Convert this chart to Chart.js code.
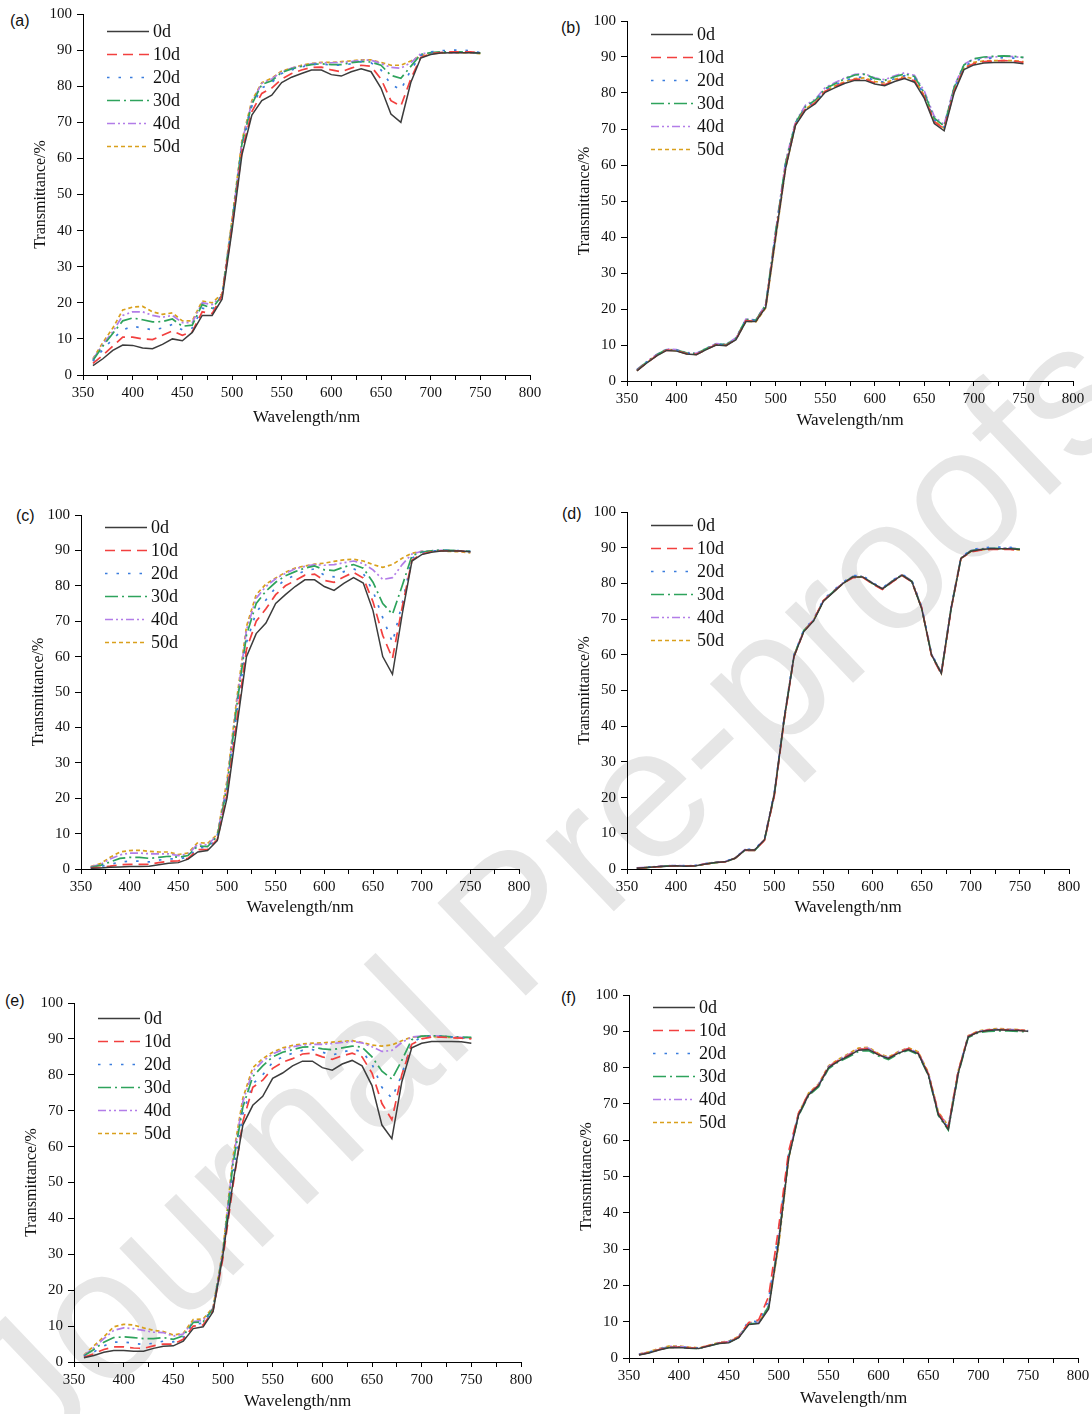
<!DOCTYPE html>
<html>
<head>
<meta charset="utf-8">
<script src="https://cdn.jsdelivr.net/npm/chart.js@4.4.1/dist/chart.umd.min.js"></script>
<style>
  body { margin: 0; background: #fff; }
  #page { position: relative; width: 1092px; height: 1414px; overflow: hidden; background: #fff; }
  #page canvas { position: absolute; }
  .tag { position: absolute; font: 16px "Liberation Sans", Arial, sans-serif; color: #111; }
  #wm {
    position: absolute; left: 545px; top: 888px; white-space: nowrap;
    font: 186px "Liberation Sans", Arial, sans-serif; color: #e6e6e6;
    transform: translate(-50%, -50%) rotate(-43.7deg);
  }
</style>
</head>
<body>
<div id="page">
  <div id="wm">Journal Pre-proofs</div>
</div>
<script>
// wavelength axis, nm
var wavelength = [360,370,380,390,400,410,420,430,440,450,460,470,480,490,500,510,520,530,540,550,
                  560,570,580,590,600,610,620,630,640,650,660,670,680,690,700,710,720,730,740,750];
var seriesNames = ['0d', '10d', '20d', '30d', '40d', '50d'];

// (a)
var a0  = [2.6,4.5,6.8,8.3,8.2,7.5,7.3,8.5,10,9.5, 11.8,16.5,16.5,21,40,61,72,76,77.5,81, 82.5,83.5,84.5,84.5,83.2,82.8,84,84.8,84,79.5, 72.3,70,81,87.8,88.8,89.2,89.3,89.3,89.3,89.2];
var a10 = [3.2,5.5,8,10.5,10.5,10,9.8,11,12.2,11, 12,17.5,17,22,41,62,73,78,79.5,82, 83.5,84.5,85.2,85.3,84.5,84,85,85.8,85.5,82, 76,74.5,82,88,89,89.3,89.5,89.5,89.5,89.3];
var a20 = [3.8,7,10,12.5,13.5,13,12.5,13,14,12.5, 13,18.5,18,22,42,63,74.5,79.5,81,83.5, 84.5,85.3,86,86.2,85.8,85.8,86.2,86.8,86.5,84.5, 80.5,79,84.5,88.5,89.5,89.8,90,90,89.8,89.3];
var a30 = [4,8,11.5,15,15.8,15.3,14.7,14.8,15.5,13.5, 13.8,19.5,18.5,22,42,64,75,80.5,81.5,83.8, 84.8,85.5,86,86.2,86,86,86.5,86.8,86.7,85.8, 83,82.2,85.5,88.8,89.3,89.5,89.5,89.5,89.3,89.2];
var a40 = [4.3,8.5,12,16.5,17.5,17.5,16.5,16,16.5,14.5, 14.5,20,19.5,22,42,64.5,75.5,80.8,82,84, 85,85.6,86.2,86.5,86.5,86.6,86.8,87.2,87.2,86.3, 85.2,85,86.5,89,89.2,89.3,89.3,89.3,89.3,89.2];
var a50 = [4.5,9,13,18,18.8,19,17.5,16.8,17.2,15, 15,20.5,20,22.5,43,65,76,81,82.2,84.2, 85,85.8,86.3,86.6,86.6,86.8,87,87.3,87.3,86.6, 85.8,85.8,87,88.5,89,89.2,89.2,89.2,89.2,89];

// (b)
var b0  = [2.8,5,7,8.5,8.3,7.5,7.3,8.7,10,9.8, 11.5,16.5,16.5,20.5,40,59,71,75.2,77,80.2, 81.5,82.7,83.5,83.5,82.5,82,83.2,84,83,78.5, 71.5,69.5,80,86.5,87.8,88.3,88.5,88.5,88.5,88.1];
var b10 = [2.9,5.1,7.1,8.6,8.4,7.6,7.4,8.8,10.1,9.9, 11.6,16.8,16.6,20.8,40.5,59.5,71.3,75.5,77.3,80.5, 81.8,83,83.8,83.9,82.8,82.3,83.5,84.2,83.4,79, 72,70,80.5,86.8,88.2,88.7,88.9,89,88.9,88.5];
var b20 = [3,5.2,7.2,8.7,8.5,7.7,7.5,8.9,10.2,10, 11.8,17,16.8,21,41,60,71.5,75.8,77.6,80.8, 82.2,83.5,84.3,84.5,83.5,83,84,84.8,84,79.5, 72.5,70.5,81,87.3,89,89.5,89.7,89.8,89.7,89.4];
var b30 = [3.1,5.3,7.3,8.8,8.6,7.8,7.6,9,10.3,10.1, 11.9,17.1,16.9,21.2,41.5,60.5,71.8,76.2,78,81.2, 82.6,84,85,85.2,84,83.5,84.5,85.3,84.6,80, 73,70.8,81.5,87.8,89.5,90,90.2,90.3,90.2,89.9];
var b40 = [3.2,5.4,7.4,8.9,8.7,7.9,7.7,9.1,10.4,10.2, 12,17.2,17,21.3,41.8,61,72,76.6,78.3,81.5, 82.9,84.2,85.2,85.3,84.2,83.7,84.8,85.6,84.9,80.5, 73.5,71.2,81.8,88,89.5,89.8,90,90.2,90.1,89.8];
var b50 = [2.9,5.1,7.1,8.6,8.4,7.6,7.4,8.8,10.1,9.9, 11.6,16.6,16.4,20.3,39.5,59,71.2,75.6,77.4,80.6, 82,83.2,84,84.2,83.2,82.8,83.8,84.6,83.8,79.3, 72.3,70.2,80.8,87,88.5,88.9,89,89,89,88.7];

// (c)
var c0  = [0.2,0.3,0.5,0.6,0.7,0.7,0.8,1.2,1.6,1.8, 2.8,4.8,5.2,8,20,40,60,66.5,69.5,75, 77.5,79.8,81.7,81.7,79.8,78.7,80.7,82.3,80.8,73, 60,55,72,87,88.8,89.5,89.8,89.8,89.8,89.6];
var c10 = [0.3,0.5,0.8,1.2,1.3,1.3,1.3,1.8,2.2,2.3, 3,5.5,5.5,8.3,21,42,62,70,73.5,77.5, 80,81.5,83,83.3,81.5,81,82.5,83.8,82.2,75.5, 66,59.5,74,87.2,89,89.6,89.9,89.9,89.8,89.6];
var c20 = [0.4,0.7,1.3,2,2.2,2.2,2,2.5,2.9,2.8, 3.4,6,6,8.8,22,44,64,72.5,76,79.5, 81.8,83,84.2,84.8,83,82.5,84,84.8,83.5,78.5, 71,64,75,87.8,89.3,89.8,90,90,89.9,89.7];
var c30 = [0.5,1,2,3,3.3,3.3,3,3.3,3.6,3.3, 3.8,6.5,6.3,9.2,23,46,66,75,78.5,81, 82.8,84,85,85.6,84.5,84.3,85.3,86,85,81, 75,72,80,88.5,89.5,89.9,90.1,90,89.9,89.7];
var c40 = [0.6,1.3,2.8,4,4.5,4.5,4.3,4.3,4.3,3.8, 4.2,7,6.8,9.5,24,47,67.5,76.5,79.8,82, 83.5,84.8,85.5,86,85.8,86,86.5,87,86.3,84.5, 81.8,82.3,86,89,89.7,89.9,90,90,89.8,89.6];
var c50 = [0.7,1.5,3.3,4.8,5.2,5.3,5,4.8,4.8,4.1, 4.5,7.5,7.2,9.8,25,48,68.5,77.5,80.5,82.2, 83.8,85,85.6,86.1,86.4,86.9,87.3,87.5,87,86, 85.2,86,87.8,89.2,89.7,89.8,89.8,89.7,89.6,89.3];

// (d)
var d0  = [0.2,0.4,0.6,0.8,0.9,0.8,0.9,1.4,1.8,2, 3,5.3,5.3,8.2,21,42,59.5,66.5,69.5,75, 77.5,80,81.8,81.8,80,78.5,80.5,82.3,80.5,73, 60,54.8,73,87,89,89.5,89.7,89.7,89.7,89.5];
var d10 = [0.2,0.4,0.6,0.8,0.9,0.8,0.9,1.4,1.8,2, 3,5.2,5.2,8,20.5,41.5,59.5,66.5,69.8,75.2, 77.6,80,81.6,81.7,79.8,78.3,80.4,82.2,80.4,73.2, 59.8,54.6,72.8,87,88.8,89.3,89.5,89.5,89.5,89.3];
var d20 = [0.3,0.5,0.7,0.9,1,0.9,1,1.5,1.9,2.1, 3.1,5.5,5.5,8.4,21.5,42.5,60,67,70,75.5, 78,80.3,82.2,82.2,80.2,78.7,80.8,82.6,80.8,73.5, 60.3,55,73.3,87.3,89.4,89.9,90.1,90.2,90.1,89.9];
var d30 = [0.2,0.4,0.6,0.8,0.9,0.8,0.9,1.4,1.8,2, 3,5.2,5.2,8.1,20.8,41.8,59.8,66.8,69.6,75.1, 77.7,80.1,81.9,81.9,80,78.4,80.6,82.4,80.6,73.1, 60,54.9,73,87.1,89.1,89.6,89.8,89.8,89.8,89.6];
var d40 = [0.3,0.5,0.7,0.9,1,0.9,1,1.5,1.9,2.1, 3.1,5.4,5.4,8.3,21.2,42.2,59.8,66.8,69.8,75.2, 77.8,80.2,82,82,80.1,78.6,80.7,82.5,80.7,73.3, 60.2,55,73.2,87.2,89.2,89.7,89.9,89.9,89.9,89.7];
var d50 = [0.2,0.4,0.6,0.8,0.9,0.8,0.9,1.4,1.8,2, 3,5.3,5.3,8.2,21,42,59.7,66.7,69.7,75.1, 77.6,80,81.7,81.8,79.9,78.5,80.5,82.3,80.5,73, 60,54.8,73,87,88.9,89.4,89.6,89.6,89.6,89.4];

// (e)
var e0  = [1.2,1.8,2.7,3.2,3.2,3,3,3.8,4.4,4.5, 5.8,9.3,9.8,14,30,50,66,71.5,74,79, 80.5,82.5,83.8,83.8,82,81.3,83,84,82.5,77, 66,62.2,78,87.5,88.8,89.3,89.3,89.3,89.2,88.8];
var e10 = [1.3,2.3,3.5,4.2,4.2,3.9,3.8,4.5,5,5, 6.3,10,10.3,14.3,29,49,67,76.5,78.5,81.8, 83.5,84.5,85.8,86,85,84.3,85.3,86,85,80.5, 72,67.5,80,88.5,90,90.5,90.5,90.3,90.2,90];
var e20 = [1.5,2.8,4.5,5.5,5.6,5.2,4.9,5.2,5.8,5.6, 6.8,10.6,10.8,14.6,30,52,69,77.5,80,83.5, 85,86,86.8,87,86.3,85.5,86.3,87,86.5,83, 76.5,73.5,80,89,90.5,90.7,90.7,90.5,90.3,90.2];
var e30 = [1.7,3.5,5.5,6.8,7,6.8,6.5,6.5,6.8,6.3, 7.3,11,11.2,14.8,30.5,55,71,79.5,82.5,85, 86.3,87,87.7,87.8,87.2,87,87.5,88,87.7,85, 81,78.8,84,89.8,90.8,90.9,90.8,90.6,90.5,90.4];
var e40 = [1.8,4,6.5,8.8,9.5,9.3,8.8,8.3,8.2,7.2, 7.8,11.3,11.6,15,31,56,72.5,81,83.8,85.8, 87,87.8,88.3,88.5,88.5,88.7,89,89.3,88.9,87.8, 86.5,86.8,89,90.5,90.8,90.9,90.8,90.6,90.4,90.3];
var e50 = [1.9,4.5,7,9.8,10.5,10.3,9.5,8.8,8.5,7.5, 8,11.8,12,15.2,31.5,57,73.5,82,84.5,86.3, 87.5,88.2,88.6,88.8,88.9,89.1,89.3,89.5,89,88.3, 88,88.3,89.5,90.5,90.7,90.7,90.5,90.4,90.3,90.2];

// (f)
var f0  = [0.8,1.4,2.2,2.8,2.9,2.7,2.6,3.3,4,4.2, 5.6,9.2,9.5,13.5,32,55,67,72.5,75,80, 81.8,83.2,84.8,85,83.5,82.5,84,85,83.8,78, 67,63,78.5,88.5,89.8,90.2,90.4,90.3,90.2,90];
var f10 = [0.9,1.5,2.3,2.9,3,2.8,2.7,3.4,4.1,4.4, 5.8,9.8,10.5,17,36,57,67.5,72.8,75.2,80.2, 82,83.4,85,85.2,83.6,82.6,84.2,85.2,84,78.3, 67.5,63.5,79,88.6,89.9,90.3,90.5,90.4,90.3,90.1];
var f20 = [1,1.6,2.4,3.1,3.1,2.8,2.7,3.4,4.2,4.5, 6,10.2,10,16,35,56,67.2,72.7,75.1,80.1, 81.9,83.3,84.9,85.1,83.5,82.5,84.1,85.1,83.9,78.2, 67.3,63.3,78.8,88.6,89.9,90.3,90.5,90.4,90.3,90.1];
var f30 = [0.9,1.5,2.3,2.9,3,2.7,2.6,3.3,4,4.3, 5.7,9.4,9.6,14.3,32.5,55.5,66.8,72.3,74.7,79.7, 81.6,82.9,84.5,84.7,83.2,82.2,83.8,84.8,83.6,77.8, 66.8,62.8,78.3,88.3,89.6,90,90.1,90.1,90,89.8];
var f40 = [1,1.6,2.4,3.2,3.2,2.9,2.7,3.4,4.2,4.5, 5.9,9.6,9.8,14.5,33,56,67.2,72.8,75.3,80.3, 82.1,83.6,85.2,85.4,83.7,82.7,84.3,85.3,84.1,78.4, 67.6,63.6,79,88.7,90,90.4,90.6,90.5,90.4,90.2];
var f50 = [1.1,1.7,2.6,3.3,3.3,3,2.8,3.5,4.3,4.6, 6,9.7,9.9,14,31,55,67.5,73,75.5,80.5, 82.3,83.8,85.4,85.6,83.9,82.9,84.4,85.5,84.3,78.7, 67.8,64,79.2,88.8,90.1,90.5,90.8,90.6,90.5,90.2];

// line styles per storage time
var colors = ['#3c3c3c', '#f2403f', '#3b7ddd', '#2ea35c', '#b27de8', '#d9a01c'];
var dashes = [[], [10, 6], [2.5, 9], [13, 4, 2, 4], [8, 3, 2, 3, 2, 3], [4, 3]];

// plot area of each panel in page pixels, legend offset, x-title offset, tag spot
var panels = [
  { tag: '(a)', series: [a0, a10, a20, a30, a40, a50], l: 83,  t: 14,   r: 530,  b: 375,  ly: 17, xt: 43, tx: 10,  ty: 12 },
  { tag: '(b)', series: [b0, b10, b20, b30, b40, b50], l: 627, t: 21,   r: 1073, b: 381,  ly: 13, xt: 40, tx: 561, ty: 19 },
  { tag: '(c)', series: [c0, c10, c20, c30, c40, c50], l: 81,  t: 515,  r: 519,  b: 869,  ly: 12, xt: 39, tx: 16,  ty: 507 },
  { tag: '(d)', series: [d0, d10, d20, d30, d40, d50], l: 627, t: 512,  r: 1069, b: 869,  ly: 13, xt: 39, tx: 562, ty: 505 },
  { tag: '(e)', series: [e0, e10, e20, e30, e40, e50], l: 74,  t: 1003, r: 521,  b: 1362, ly: 15, xt: 40, tx: 5,   ty: 992 },
  { tag: '(f)', series: [f0, f10, f20, f30, f40, f50], l: 629, t: 995,  r: 1078, b: 1358, ly: 12, xt: 41, tx: 561, ty: 989 }
];

var serif = '"Liberation Serif", "Times New Roman", serif';
var YW = 56, PT = 14, PR = 22, XH = 58;

// legend drawn inside the plot, top-left
var innerLegend = {
  id: 'innerLegend',
  afterDatasetsDraw: function (chart, args, opts) {
    var ctx = chart.ctx, area = chart.chartArea;
    ctx.save();
    ctx.font = '18px ' + serif;
    ctx.textBaseline = 'middle';
    ctx.fillStyle = '#111';
    chart.data.datasets.forEach(function (ds, i) {
      var y = Math.round(area.top + opts.top + i * 23) + 0.5;
      ctx.strokeStyle = ds.borderColor;
      ctx.lineWidth = 1.7;
      ctx.setLineDash(ds.borderDash);
      ctx.beginPath();
      ctx.moveTo(area.left + 24, y);
      ctx.lineTo(area.left + 66, y);
      ctx.stroke();
      ctx.fillText(ds.label, area.left + 70, y + 1);
    });
    ctx.restore();
  }
};

var page = document.getElementById('page');

panels.forEach(function (p) {
  var tag = document.createElement('div');
  tag.className = 'tag';
  tag.style.left = p.tx + 'px';
  tag.style.top = p.ty + 'px';
  tag.textContent = p.tag;
  page.appendChild(tag);

  var w = (p.r - p.l) + YW + PR;
  var h = (p.b - p.t) + PT + XH;
  var cv = document.createElement('canvas');
  cv.width = w;
  cv.height = h;
  cv.style.left = (p.l - YW) + 'px';
  cv.style.top = (p.t - PT) + 'px';
  page.appendChild(cv);

  var datasets = p.series.map(function (vals, i) {
    return {
      label: seriesNames[i],
      data: vals.map(function (v, k) { return { x: wavelength[k], y: v }; }),
      borderColor: colors[i],
      borderDash: dashes[i],
      borderWidth: i === 0 ? 1.5 : 1.7,
      pointRadius: 0,
      tension: 0,
      fill: false
    };
  });

  new Chart(cv.getContext('2d'), {
    type: 'line',
    data: { datasets: datasets },
    options: {
      responsive: false,
      animation: false,
      devicePixelRatio: 1,
      layout: { padding: { top: PT, right: PR, left: 0, bottom: 0 } },
      plugins: {
        legend: { display: false },
        tooltip: { enabled: false },
        innerLegend: { top: p.ly }
      },
      scales: {
        x: {
          type: 'linear',
          min: 350,
          max: 800,
          afterFit: function (s) { s.height = XH; },
          border: { display: true, color: '#000', width: 1 },
          grid: { display: true, drawOnChartArea: false, drawTicks: true, tickLength: 5, tickColor: '#000' },
          ticks: {
            stepSize: 25,
            autoSkip: false,
            maxRotation: 0,
            padding: 4,
            color: '#111',
            font: { family: serif, size: 15 },
            callback: function (v) { return v % 50 === 0 ? String(v) : ''; }
          },
          title: {
            display: true,
            text: 'Wavelength/nm',
            color: '#111',
            font: { family: serif, size: 17, lineHeight: 1.2 },
            padding: { top: 0, bottom: XH - 10 - p.xt }
          }
        },
        y: {
          min: 0,
          max: 100,
          afterFit: function (s) { s.width = YW; },
          border: { display: true, color: '#000', width: 1 },
          grid: { display: true, drawOnChartArea: false, drawTicks: true, tickLength: 6, tickColor: '#000' },
          ticks: {
            stepSize: 10,
            padding: 5,
            color: '#111',
            font: { family: serif, size: 15 }
          },
          title: {
            display: true,
            text: 'Transmittance/%',
            color: '#111',
            font: { family: serif, size: 16, lineHeight: 1.2 },
            padding: { top: 4, bottom: 0 }
          }
        }
      }
    },
    plugins: [innerLegend]
  });
});
</script>
</body>
</html>
